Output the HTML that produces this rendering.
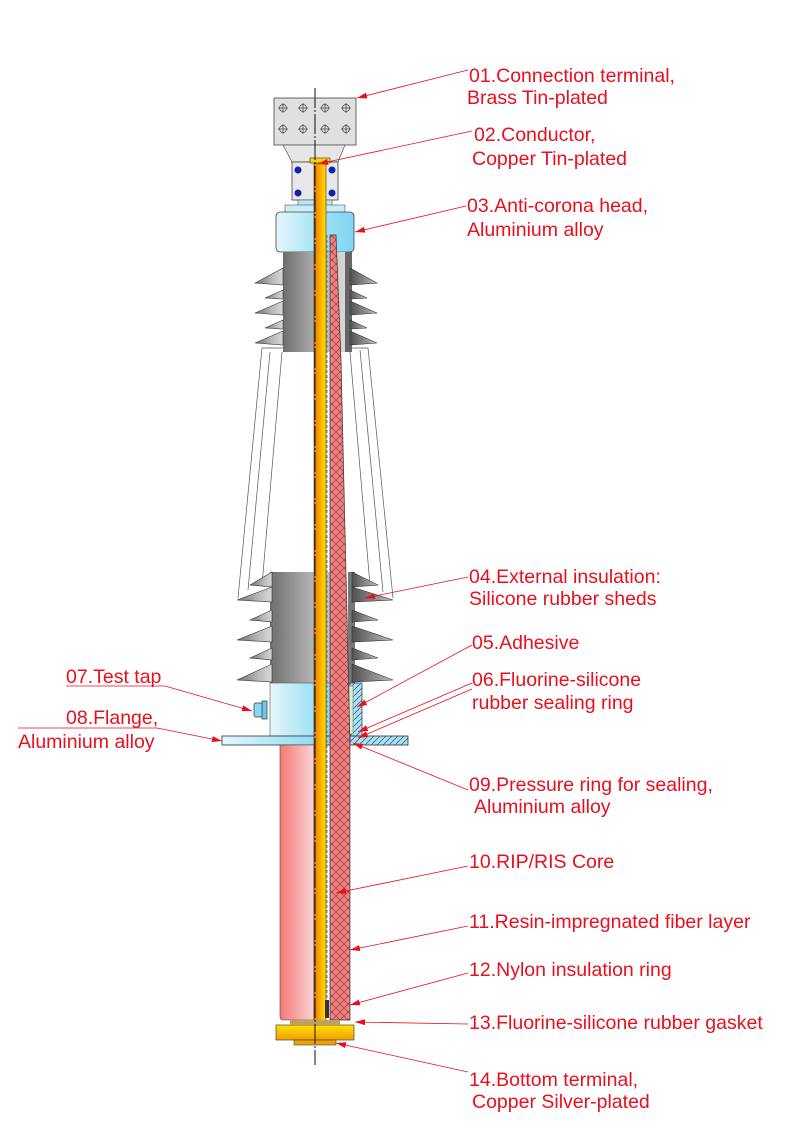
<!DOCTYPE html>
<html><head><meta charset="utf-8"><style>
html,body{margin:0;padding:0;background:#fff;width:800px;height:1132px;overflow:hidden}
svg{display:block}
text{font-family:"Liberation Sans",Arial,sans-serif;font-size:19.5px;fill:#e8101e}
</style></head><body>
<svg width="800" height="1132" viewBox="0 0 800 1132" xmlns="http://www.w3.org/2000/svg">
<defs>
<linearGradient id="grey" x1="0" x2="1"><stop offset="0" stop-color="#6e6e6e"/><stop offset="0.6" stop-color="#b8b8b8"/><stop offset="1" stop-color="#d8d8d8"/></linearGradient>
<linearGradient id="greyR" x1="0" x2="1"><stop offset="0" stop-color="#505050"/><stop offset="1" stop-color="#c0c0c0"/></linearGradient>
<linearGradient id="blue" x1="0" x2="1"><stop offset="0" stop-color="#e6f6fc"/><stop offset="0.5" stop-color="#a8e4f6"/><stop offset="1" stop-color="#7dd4f2"/></linearGradient>
<linearGradient id="pink" x1="0" x2="1"><stop offset="0" stop-color="#f47878"/><stop offset="1" stop-color="#fbd4d4"/></linearGradient>
<linearGradient id="cond" x1="0" x2="1"><stop offset="0" stop-color="#e87a00"/><stop offset="0.6" stop-color="#ffb400"/><stop offset="1" stop-color="#ffe000"/></linearGradient>
<linearGradient id="gold" x1="0" y1="0" x2="0" y2="1"><stop offset="0" stop-color="#ffe000"/><stop offset="1" stop-color="#f0a000"/></linearGradient>
<pattern id="hatch" width="8" height="8" patternUnits="userSpaceOnUse"><rect width="8" height="8" fill="#f08080"/><path d="M0,0L8,8M8,0L0,8" stroke="#803030" stroke-width="0.6"/></pattern>
<pattern id="bh" width="6" height="6" patternUnits="userSpaceOnUse"><rect width="6" height="6" fill="#a8e0f4"/><path d="M0,6L6,0" stroke="#305070" stroke-width="0.7"/></pattern>
<marker id="ar" markerWidth="10" markerHeight="6" refX="10" refY="3" orient="auto" markerUnits="userSpaceOnUse"><path d="M0,0L10,3L0,6z" fill="#e8101e"/></marker>
</defs>

<!-- terminal -->
<rect x="274" y="98" width="82" height="47" fill="#e0e0e0" stroke="#444" stroke-width="0.8"/>
<g stroke="#444" fill="none" stroke-width="0.7">
<circle cx="283" cy="108" r="3.5"/><circle cx="303" cy="108" r="3.5"/><circle cx="325" cy="108" r="3.5"/><circle cx="346" cy="108" r="3.5"/>
<circle cx="283" cy="129" r="3.5"/><circle cx="303" cy="129" r="3.5"/><circle cx="325" cy="129" r="3.5"/><circle cx="346" cy="129" r="3.5"/>
<path d="M278,108h10M283,103v10M298,108h10M303,103v10M320,108h10M325,103v10M341,108h10M346,103v10M278,129h10M283,124v10M298,129h10M303,124v10M320,129h10M325,124v10M341,129h10M346,124v10"/>
</g>
<path d="M283,145L345,145L338,162L292,162Z" fill="#e6e6e6" stroke="#555" stroke-width="0.7"/>
<rect x="292" y="162" width="46" height="38" fill="#e8e8e8" stroke="#444" stroke-width="0.8"/>
<circle cx="298" cy="170" r="3.5" fill="#1020b0"/><circle cx="332" cy="170" r="3.5" fill="#1020b0"/>
<circle cx="298" cy="193" r="3.5" fill="#1020b0"/><circle cx="332" cy="193" r="3.5" fill="#1020b0"/>

<!-- anti-corona -->
<rect x="298" y="200" width="34" height="6" fill="#b8e6f6" stroke="#555" stroke-width="0.6"/>
<rect x="285" y="205" width="60" height="9" fill="#c8eef8" stroke="#555" stroke-width="0.6"/>
<rect x="276" y="212" width="78" height="40" rx="4" fill="url(#blue)" stroke="#444" stroke-width="0.8"/>

<!-- upper sheds -->
<path d="M283,252 L283,352 L345,352 L345,252Z" fill="url(#grey)"/>
<g fill="url(#grey)" stroke="#333" stroke-width="0.6">
<path d="M283,268 L255,283 L283,285Z"/><path d="M283,290 L265,298 L283,299Z"/><path d="M283,301 L255,313 L283,315Z"/><path d="M283,320 L265,328 L283,329Z"/><path d="M283,331 L255,343 L283,345Z"/>
</g>
<path d="M345,252 L352,252 L352,352 L345,352Z" fill="#666"/>
<g fill="url(#greyR)" stroke="#333" stroke-width="0.6">
<path d="M350,268 L377,283 L350,285Z"/><path d="M350,290 L367,298 L350,299Z"/><path d="M350,301 L377,313 L350,315Z"/><path d="M350,320 L367,328 L350,329Z"/><path d="M350,331 L377,343 L350,345Z"/>
</g>

<!-- transparent cone outlines -->
<g stroke="#555" stroke-width="0.7" fill="none">
<path d="M262,348 L238,598"/><path d="M282,352 L262,585"/><path d="M270,352 L248,590"/>
<path d="M368,348 L393,598"/><path d="M350,352 L370,585"/><path d="M360,350 L383,592"/>
<path d="M262,348 L283,348"/><path d="M350,348 L368,348"/>
</g>

<!-- lower sheds -->
<path d="M270,572 L345,572 L345,685 L270,685Z" fill="url(#grey)"/>
<g fill="url(#grey)" stroke="#333" stroke-width="0.6">
<path d="M272,572 L250,585 L272,587Z"/><path d="M272,587 L237,600 L272,602Z"/><path d="M272,610 L250,620 L272,622Z"/><path d="M272,626 L237,640 L272,642Z"/><path d="M272,648 L250,658 L272,660Z"/><path d="M272,664 L237,680 L272,682Z"/>
</g>
<path d="M348,572 L355,572 L355,685 L348,685Z" fill="#777"/>
<g fill="url(#greyR)" stroke="#333" stroke-width="0.6">
<path d="M352,572 L378,585 L352,587Z"/><path d="M352,587 L393,600 L352,602Z"/><path d="M352,610 L378,620 L352,622Z"/><path d="M352,626 L393,640 L352,642Z"/><path d="M352,648 L378,658 L352,660Z"/><path d="M352,664 L393,680 L352,682Z"/>
</g>

<!-- flange body -->
<rect x="270" y="683" width="76" height="53" fill="url(#blue)" stroke="#555" stroke-width="0.6"/>
<rect x="254" y="703" width="9" height="14" rx="2" fill="#8cd8f0" stroke="#333" stroke-width="0.7"/>
<rect x="262" y="701" width="5" height="18" fill="#6cc8e8" stroke="#333" stroke-width="0.7"/>
<rect x="222" y="736" width="124" height="9" fill="url(#blue)" stroke="#333" stroke-width="0.8"/>
<rect x="350" y="683" width="12" height="53" fill="url(#bh)" stroke="#333" stroke-width="0.7"/>
<rect x="349" y="686" width="4" height="48" fill="#d8f0d0" stroke="#666" stroke-width="0.5"/>
<rect x="350" y="736" width="58" height="9" fill="url(#bh)" stroke="#333" stroke-width="0.8"/>

<!-- lower tube -->
<path d="M280,745 L314,745 L314,1020 L283,1020 Q280,1020 280,1016Z" fill="url(#pink)" stroke="#444" stroke-width="0.6"/>

<!-- RIP core -->
<path d="M330,235 L336,235 L341,360 L350,745 L350,1020 L330,1020Z" fill="url(#hatch)" stroke="#333" stroke-width="0.7"/>
<line x1="327" y1="235" x2="327" y2="1020" stroke="#777" stroke-width="1" stroke-dasharray="3,2"/>
<!-- conductor -->
<rect x="314" y="160" width="12" height="865" fill="url(#cond)" stroke="#333" stroke-width="0.6"/>
<rect x="310" y="158" width="20" height="5" fill="#ffd000" stroke="#333" stroke-width="0.6"/>
<rect x="325" y="1000" width="4" height="18" fill="#333"/>

<!-- bottom terminal -->
<rect x="276" y="1025" width="78" height="15" fill="url(#gold)" stroke="#444" stroke-width="0.7"/>
<rect x="294" y="1040" width="42" height="5" fill="#f0a000" stroke="#444" stroke-width="0.6"/>
<rect x="290" y="1020" width="50" height="5" fill="#c0a060"/>

<!-- centerline -->
<line x1="315" y1="88" x2="315" y2="1065" stroke="#111" stroke-width="1" stroke-dasharray="20,2,2,2"/>

<!-- leaders -->
<g stroke="#e8101e" stroke-width="0.8" fill="none" marker-end="url(#ar)">
<path d="M468,70 L357,98"/>
<path d="M472,131 L318,164"/>
<path d="M466,206 L355,232"/>
<path d="M468,577 L365,598"/>
<path d="M472,645 L357,707"/>
<path d="M472,683 L358,732"/>
<path d="M472,689 L358,738"/>
<path d="M66,686 L165,686 L252,711"/>
<path d="M18,728 L157,728 L222,741"/>
<path d="M468,790 L353,743"/>
<path d="M468,866 L336,893"/>
<path d="M468,926 L350,950"/>
<path d="M468,973 L350,1005"/>
<path d="M468,1024 L355,1022"/>
<path d="M468,1072 L336,1043"/>
</g>

<!-- labels -->
<text x="469" y="82">01.Connection terminal,</text>
<text x="467" y="104">Brass Tin-plated</text>
<text x="474" y="141">02.Conductor,</text>
<text x="472" y="165">Copper Tin-plated</text>
<text x="467" y="212">03.Anti-corona head,</text>
<text x="467" y="236">Aluminium alloy</text>
<text x="469" y="583">04.External insulation:</text>
<text x="469" y="605">Silicone rubber sheds</text>
<text x="472" y="649">05.Adhesive</text>
<text x="472" y="686">06.Fluorine-silicone</text>
<text x="472" y="709">rubber sealing ring</text>
<text x="66" y="683">07.Test tap</text>
<text x="66" y="724">08.Flange,</text>
<text x="18" y="748">Aluminium alloy</text>
<text x="469" y="791">09.Pressure ring for sealing,</text>
<text x="474" y="813">Aluminium alloy</text>
<text x="469" y="868">10.RIP/RIS Core</text>
<text x="469" y="928">11.Resin-impregnated fiber layer</text>
<text x="469" y="976">12.Nylon insulation ring</text>
<text x="469" y="1029">13.Fluorine-silicone rubber gasket</text>
<text x="469" y="1086">14.Bottom terminal,</text>
<text x="472" y="1108">Copper Silver-plated</text>
</svg>
</body></html>
